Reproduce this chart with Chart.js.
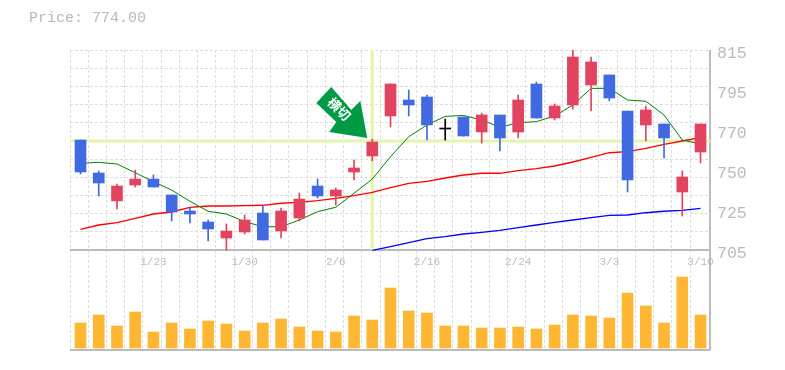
<!DOCTYPE html>
<html>
<head>
<meta charset="utf-8">
<style>
  html, body { margin: 0; padding: 0; background: #fff; }
  #wrap { position: relative; width: 785px; height: 370px; }
  #price { position: absolute; left: 29px; top: 10px; font: 15px "Liberation Mono", monospace; color: #b8b8b8; }
</style>
<script src="https://cdn.jsdelivr.net/npm/chart.js@4"></script>
</head>
<body>
<div id="wrap">
  <div id="price">Price: 774.00</div>
  <canvas id="myChart" width="785" height="370"></canvas>
</div>
<script>
const opens  = [765.5,747.35,732,740.75,744,735.25,726.45,720.4,711.6,714.9,725.35,715.45,722.6,740.2,734.7,747.9,756.7,778.7,787.5,789.15,771.55,778.15,769.9,779.25,769.9,796.3,777.6,784.75,795.75,801.25,781.45,773.75,774.3,736.9,758.9]
const closes = [747.9,741.85,740.2,744,739.65,725.9,724.8,716.55,715.45,721.5,710.5,726.45,733,734.7,738,750.1,764.4,796.3,784.75,773.75,771.55,767.7,779.25,766.6,787.5,777.6,784.2,811.15,808.4,788.6,743.5,782,766.6,745.15,774.3]
const highs  = [765.5,748.45,741.3,749,746.25,735.25,728.1,721.5,719.3,724.25,729.4,728.1,736.35,744.05,739.1,754.5,766,796.3,793,790.25,777,778.15,780.35,779.25,790.25,797.4,785.3,815,811.15,801.25,781.45,784.2,774.3,748.45,774.3]
const lows   = [746.8,734.7,727.55,739.65,739.65,721,719.85,710,705,713.8,710.5,711.6,721,733.6,729.75,743.5,754,772.65,778.7,765.5,765.5,767.7,763.85,759.45,766.6,777.6,776.5,782.55,781.45,787,736.9,765,755.6,723.7,752.85]
const maShort = [752.7,753.2,752.3,747.5,742.6,738,731.8,726.3,724.8,720.6,717.8,717.8,721.5,726.1,728.5,736.2,744,756.3,767.3,773.75,778.5,779,776.5,772.5,775,775.6,778.7,784.75,793.9,793.9,787.5,786.8,779.25,765.5,763.3]
const maMid   = [716.4,718.75,720,722.4,724.8,725.9,728.5,729.2,729.2,729.4,729.6,730.7,731.2,732.1,733.4,734.9,736.7,739.3,741.7,742.8,744.6,746.25,747.2,747.2,748.6,749.7,751.2,753.4,756,758.5,759.1,760.9,763.1,764.95,766.8]
const maLong  = [null,null,null,null,null,null,null,null,null,null,null,null,null,null,null,null,704.8,706.8,709,711.2,712.3,713.8,714.7,715.8,717.3,718.75,720.2,721.5,722.8,724,724.25,725.5,726.3,726.8,727.9]
const volumes = [75,99,66,108,48,75,57,81,72,51,75,87,63,51,48,96,84,180,111,105,66,66,60,60,63,57,69,99,96,90,165,126,75,213,99]
const dateIndex  = [4,9,14,19,24,29,34]
const dateLabels = ["1/23","1/30","2/6","2/16","2/24","3/3","3/10"]
const priceTicks  = [815,793,771,749,727,705]
const priceLabels = ["815","795","770","750","725","705"]
const signalIndex = 16
const signalPrice = 765
const signalText  = "横切"

const RED = "#e2435f", BLUE = "#4169e1", BLACK = "#000"
const GRID = "#dddddd", EDGE = "#bbbbbb", HILITE = "#e3f5aa"
// grid cell starts a little left of the candle's own cell in the original
const xMin = -0.576, xMax = 34.52
const priceMax = 815, priceBase = 705, panelBottom = 650

const candleColor = ctx => {
    const i = ctx.dataIndex
    if (opens[i] === closes[i]) return BLACK
    return closes[i] > opens[i] ? RED : BLUE
}
const at = list => list.map((v, i) => ({x: i, y: v}))

const signalArrow = {
    id: "signalArrow",
    afterDatasetsDraw(chart) {
        const c = chart.ctx
        const ox = chart.scales.x.getPixelForValue(signalIndex) - 5
        const oy = chart.scales.y.getPixelForValue(signalPrice) - 3
        const pts = [[0,0],[-7,-37],[-16,-28],[-36,-51],[-51,-35],[-31,-16],[-38,-6]]
        c.save()
        c.fillStyle = "#009944"
        c.beginPath()
        pts.forEach((p, i) => i ? c.lineTo(ox + p[0], oy + p[1]) : c.moveTo(ox + p[0], oy + p[1]))
        c.closePath()
        c.fill()
        c.translate(ox - 28, oy - 29)
        c.rotate(Math.PI / 4)
        c.fillStyle = "#fff"
        c.font = 'bold 13px "Noto Sans CJK JP"'
        c.textAlign = "center"
        c.textBaseline = "middle"
        c.fillText(signalText, 0, 0)
        c.restore()
    }
}

const data = {
    datasets: [
        {type: "bar", data: at(opens.map((o, i) => [o, closes[i]])), backgroundColor: candleColor,
         minBarLength: 1, barThickness: 11, grouped: false, order: 1, yAxisID: "y"},
        {type: "bar", data: at(lows.map((l, i) => [l, highs[i]])), backgroundColor: candleColor,
         barThickness: 1, grouped: false, order: 2, yAxisID: "y"},
        {type: "bar", data: at(volumes), backgroundColor: "#ffb733",
         barThickness: 11, grouped: false, order: 3, yAxisID: "vol"},
        {type: "line", data: at(maShort), borderColor: "#008000", borderWidth: 1, pointRadius: 0, order: 4, yAxisID: "y"},
        {type: "line", data: at(maMid), borderColor: "#ff0000", borderWidth: 1.3, pointRadius: 0, order: 5, yAxisID: "y"},
        {type: "line", data: at(maLong), borderColor: "#0000ff", borderWidth: 1.3, pointRadius: 0, order: 6, yAxisID: "y"},
        {type: "line", data: [{x: xMin, y: signalPrice}, {x: xMax, y: signalPrice}], borderColor: HILITE, borderWidth: 3, pointRadius: 0, order: 7, yAxisID: "y"},
        {type: "line", data: [{x: signalIndex, y: priceBase}, {x: signalIndex, y: priceMax}], borderColor: HILITE, borderWidth: 3, pointRadius: 0, order: 7, yAxisID: "y"},
    ]
}

const config = {
    data: data,
    plugins: [signalArrow],
    options: {
        responsive: false,
        animation: false,
        layout: {padding: {left: 70, top: 50, bottom: 20, right: 0}},
        plugins: {legend: {display: false}, tooltip: {enabled: false}},
        scales: {
            x: {
                type: "linear", min: xMin, max: xMax, offset: false,
                afterBuildTicks: s => {
                    const t = []
                    for (let i = 0; i < 35; i++) t.push({value: xMin + i})
                    t.push({value: xMax})
                    s.ticks = t
                },
                afterFit: s => { s.height = 0 },
                ticks: {display: false},
                border: {display: false, dash: c => c.index === 35 ? [] : [3, 2]},
                grid: {offset: false, drawTicks: false, color: c => c.index === 35 ? EDGE : GRID, lineWidth: c => c.index === 35 ? 2 : 1},
            },
            xDates: {
                type: "linear", min: xMin, max: xMax, offset: false,
                position: {y: priceBase},
                afterBuildTicks: s => { s.ticks = dateIndex.map(v => ({value: v})) },
                afterFit: s => { s.height = 0 },
                ticks: {
                    autoSkip: false, maxRotation: 0, padding: 5, color: EDGE,
                    font: {family: "Liberation Mono", size: 11},
                    callback: (v, i) => dateLabels[i],
                },
                border: {display: false},
                grid: {display: false, drawTicks: false},
            },
            y: {
                min: panelBottom, max: priceMax, position: "left",
                afterBuildTicks: s => {
                    const t = [{value: panelBottom}]
                    for (let v = priceBase; v <= priceMax; v += 10) t.push({value: v})
                    s.ticks = t
                },
                afterFit: s => { s.width = 0 },
                ticks: {display: false},
                border: {display: false, dash: c => c.tick && c.tick.value <= priceBase ? [] : [3, 2]},
                grid: {drawTicks: false,
                       color: c => c.tick && c.tick.value <= priceBase ? EDGE : GRID,
                       lineWidth: c => c.tick && c.tick.value <= priceBase ? 2 : 1},
            },
            priceAxis: {
                min: panelBottom, max: priceMax, position: "right",
                afterBuildTicks: s => { s.ticks = priceTicks.map(v => ({value: v})) },
                afterFit: s => { s.width = 75 },
                ticks: {
                    padding: 7, labelOffset: 4, color: EDGE,
                    font: {family: "Liberation Mono", size: 16.5},
                    callback: (v, i) => priceLabels[i],
                },
                border: {display: false},
                grid: {display: false, drawTicks: false},
            },
            vol: {
                min: -6, max: 894, display: false,
            },
        },
    },
}

new Chart(document.getElementById("myChart"), config)
</script>
</body>
</html>
